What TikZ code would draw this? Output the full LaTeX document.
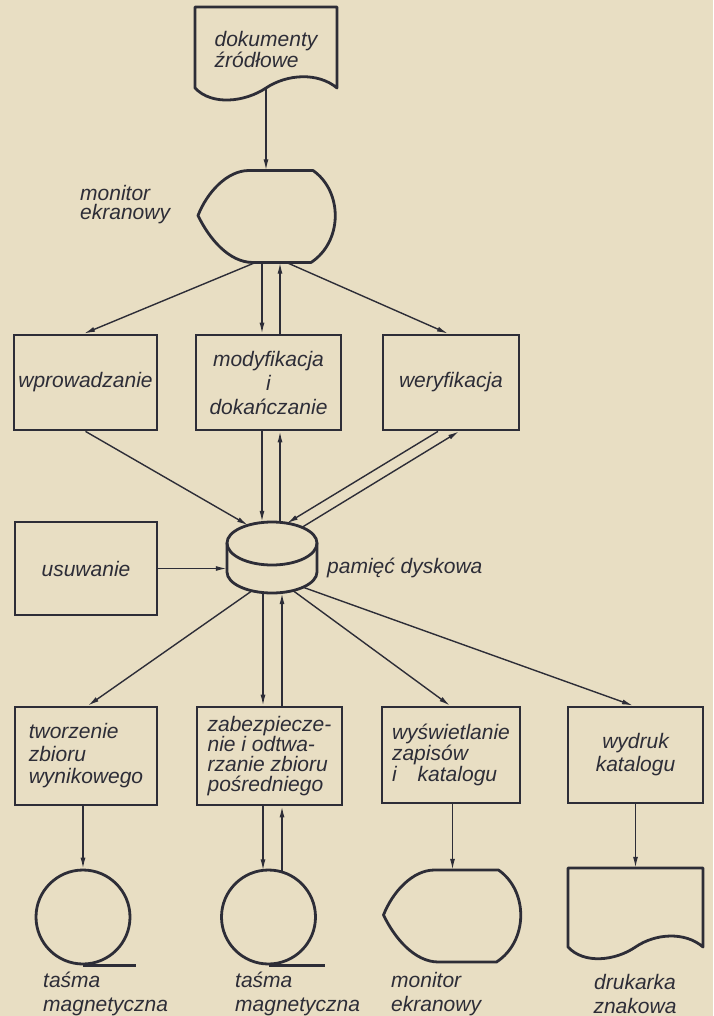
\documentclass[tikz,border=0pt]{standalone}
\usepackage{fontspec}
\setmainfont{Liberation Sans}
\usetikzlibrary{arrows.meta,calc}
\definecolor{paper}{RGB}{232,222,195}
\definecolor{ink}{RGB}{45,45,55}

\begin{document}
\begin{tikzpicture}[x=1pt,y=-1pt,
  every node/.style={text=ink},
  lettering/.style={font={\fontsize{21}{#1}\selectfont\itshape}, inner sep=0pt},
  lettering/.default=21,
  procbox/.style={draw=ink, line width=2.8pt, inner sep=0pt, minimum height=95pt},
  holder/.style={draw=none, inner sep=0pt},
  outline/.style={draw=ink, line width=2.8pt, line join=round},
  flow/.style={draw=ink, line width=1.4pt, -{Latex[length=11pt,width=5pt]}},
  % punched-document outline (flat top, wavy bottom), centred on the origin
  docpic/.pic={
    \draw[outline] (71,40.5) .. controls (52,24.5) and (21,26.5) .. (0,40.5)
      .. controls (-21,54.5) and (-54,58.5) .. (-71,40.5)
      -- (-71,-40.5) -- (71,-40.5) -- cycle;
  },
  % display unit outline
  monitorpic/.pic={
    \draw[outline] (-69,-1) .. controls (-60,-24) and (-40,-46) .. (-18,-46)
      -- (46,-46) .. controls (76,-25) and (76,25) .. (44,46)
      -- (-14,46) .. controls (-38,46) and (-58,22) .. cycle;
  },
  % disk storage outline
  diskpic/.pic={
    \draw[outline] (-45,-14.5) .. controls (-45,-26.1) and (-24.9,-35.5) .. (0,-35.5)
      .. controls (24.9,-35.5) and (45,-26.1) .. (45,-14.5)
      -- (45,14.5) .. controls (45,26.1) and (24.9,35.5) .. (0,35.5)
      .. controls (-24.9,35.5) and (-45,26.1) .. (-45,14.5) -- cycle;
    \draw[outline] (-45,-14.5) .. controls (-45,-2.3) and (-24.9,7.5) .. (0,7.5)
      .. controls (24.9,7.5) and (45,-2.3) .. (45,-14.5);
  },
]

\fill[paper] (0,0) rectangle (713,1016);
\useasboundingbox (0,0) rectangle (713,1016);

% ---- source documents and first display
\node[holder, minimum width=142pt, minimum height=76pt, align=left, lettering]
  (doc) at (266,50) {dokumenty\\źródłowe};
\pic at (266,47.5) {docpic};

\node[holder, minimum width=138pt, minimum height=92pt] (mon1) at (267,216.5) {};
\pic at (mon1.center) {monitorpic};
\node[lettering=19, align=left, anchor=west] (mon1lbl) at (80,205) {monitor\\ekranowy};

% ---- editing functions
\node[procbox, minimum width=143pt, lettering] (wpr) at (85.5,382.5) {wprowadzanie};
\node[procbox, minimum width=145pt, lettering=24, align=center] (mod) at (268.5,382.5)
  {modyfikacja\\i\\dokańczanie};
\node[procbox, minimum width=136pt, lettering] (wer) at (451,382.5) {weryfikacja};

% ---- disk storage
\node[holder, minimum width=90pt, minimum height=71pt] (disk) at (272,557.5) {};
\pic at (disk.center) {diskpic};
\node[lettering, anchor=west] (disklbl) at (327,568) {pamięć dyskowa};
\node[procbox, minimum width=142pt, minimum height=93pt, lettering] (usu) at (86,568.5) {usuwanie};

\coordinate (dkwpr)    at ($(disk.center)+(-24,-32.3)$);
\coordinate (dkwerin)  at ($(disk.center)+(15,-34.3)$);
\coordinate (dkwerout) at ($(disk.center)+(30,-30.2)$);
\coordinate (dktw)     at ($(disk.center)+(-20,33.3)$);
\coordinate (dkwys)    at ($(disk.center)+(21,33.1)$);
\coordinate (dkwyd)    at ($(disk.center)+(31,29.7)$);

% ---- output functions
\node[procbox, minimum width=142pt, minimum height=98pt, lettering=22.5, align=left]
  (tw) at (86,756) {tworzenie\\zbioru\\wynikowego};
\node[procbox, minimum width=145pt, minimum height=98pt, lettering=20, align=left]
  (zab) at (269.5,756) {zabezpiecze-\\nie i odtwa-\\rzanie zbioru\\pośredniego};
\node[procbox, minimum width=138pt, minimum height=96pt, lettering=17.5, align=left]
  (wys) at (451,755) {wyświetlanie\\zapisów\\i\quad katalogu};
\node[procbox, minimum width=135pt, minimum height=96pt, lettering=23, align=center]
  (wyd) at (635.5,755) {wydruk\\katalogu};

% ---- output devices
\node[circle, draw=ink, line width=2.8pt, minimum size=94pt, inner sep=0pt] (tp1) at (83,917) {};
\draw[outline] (tp1.south) -- ++(53,0);
\node[circle, draw=ink, line width=2.8pt, minimum size=94pt, inner sep=0pt] (tp2) at (268.5,917) {};
\draw[outline] (tp2.south) -- ++(56,0);
\coordinate (tp2dn) at ($(tp2.center)+(-5.5,-46.7)$);
\coordinate (tp2up) at ($(tp2.center)+(13.5,-45)$);

\node[holder, minimum width=138pt, minimum height=92pt] (mon2) at (452.5,916) {};
\pic at (mon2.center) {monitorpic};

\node[holder, minimum width=135pt, minimum height=79pt] (prn) at (635.5,907.5) {};
\pic[xscale=0.951, yscale=0.975] at (prn.center) {docpic};

\node[lettering=24, align=left, anchor=west] (tp1lbl) at (43,994) {taśma\\magnetyczna};
\node[lettering=24, align=left, anchor=west] (tp2lbl) at (235,994) {taśma\\magnetyczna};
\node[lettering=24, align=left, anchor=west] (mon2lbl) at (391,994) {monitor\\ekranowy};
\node[lettering=24, align=center] (prnlbl) at (635,994) {drukarka\\znakowa};

% ---- connectors
\draw[flow] (doc.south) -- (doc.south |- mon1.north);
\draw[flow] ([xshift=-12pt]mon1.south) -- ([xshift=-1.5pt]wpr.north);
\draw[flow] ([xshift=-6.5pt]mod.north |- mon1.south) -- ([xshift=-6.5pt]mod.north);
\draw[flow] ([xshift=11.5pt]mod.north) -- ([xshift=11.5pt]mod.north |- mon1.south);
\draw[flow] ([xshift=20pt]mon1.south) -- ([xshift=-3pt]wer.north);

\draw[flow] (wpr.south) -- (dkwpr);
\draw[flow] ([xshift=-6.5pt]mod.south) -- ([xshift=-6.5pt]mod.south |- disk.north);
\draw[flow] ([xshift=11.5pt]mod.south |- disk.north) -- ([xshift=11.5pt]mod.south);
\draw[flow] ([xshift=-13pt]wer.south) -- (dkwerin);
\draw[flow] (dkwerout) -- ([xshift=8pt]wer.south);
\draw[flow] (usu.east) -- (usu.east -| disk.west);

\draw[flow] (dktw) -- ([xshift=2pt]tw.north);
\draw[flow] ([xshift=-6.5pt]zab.north |- disk.south) -- ([xshift=-6.5pt]zab.north);
\draw[flow] ([xshift=12.5pt]zab.north) -- ([xshift=12.5pt]zab.north |- disk.south);
\draw[flow] (dkwys) -- ([xshift=-1pt]wys.north);
\draw[flow] (dkwyd) -- ([xshift=-2.5pt]wyd.north);

\draw[flow] (tp1.north |- tw.south) -- (tp1.north);
\draw[flow] (tp2dn |- zab.south) -- (tp2dn);
\draw[flow] (tp2up) -- (tp2up |- zab.south);
\draw[flow] (mon2.north |- wys.south) -- (mon2.north);
\draw[flow] (prn.north |- wyd.south) -- (prn.north);

\end{tikzpicture}
\end{document}
